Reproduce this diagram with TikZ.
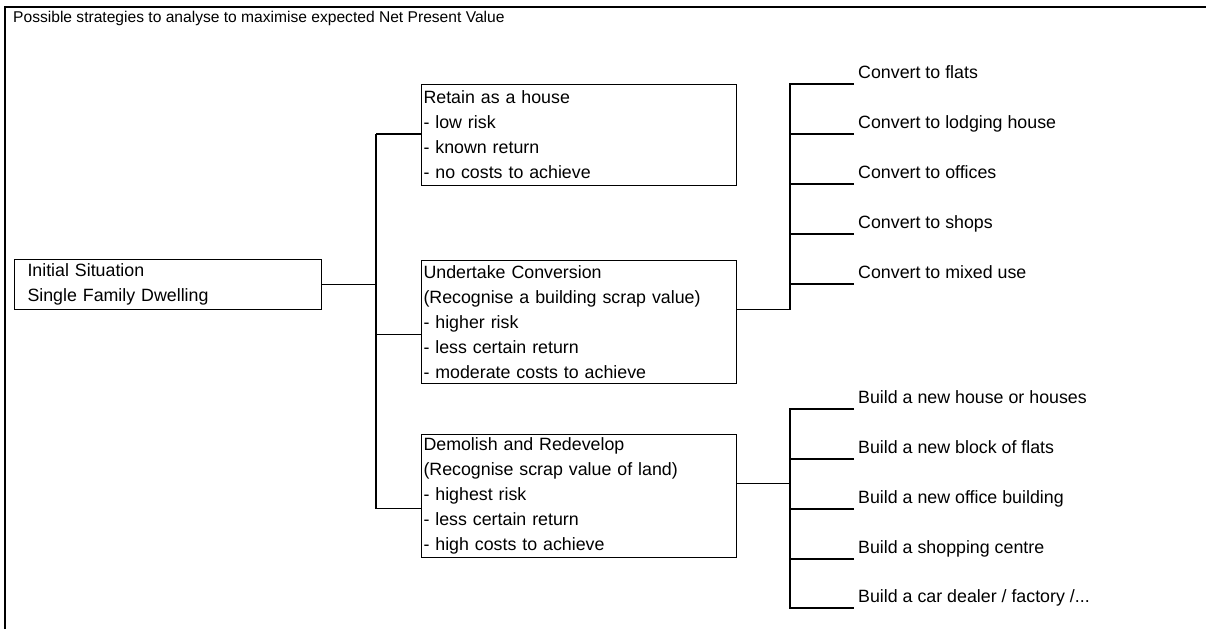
\documentclass[tikz,border=0pt]{standalone}
\usepackage{fontspec}
\setmainfont{Liberation Sans}
\usetikzlibrary{calc}

\tikzset{
  box/.style={draw, line width=1pt, rectangle, anchor=north west, align=left,
    inner xsep=2pt, inner ysep=0pt, font=\fontsize{17.8}{25}\selectfont},
  leaf/.style={anchor=south west, inner xsep=4pt, inner ysep=1pt, text depth=4pt,
    font=\fontsize{17.8}{25}\selectfont},
  link/.style={line width=1.2pt},
}

\begin{document}
\begin{tikzpicture}[x=1pt,y=-1pt]
\useasboundingbox (0,0) rectangle (1206,629);
\draw[line width=2.6pt] (5,629) -- (5,7) -- (1206,7); % frame
\node[anchor=west, inner sep=0pt, font=\fontsize{15.6}{20}\selectfont] (title) at (13,18) {Possible strategies to analyse to maximise expected Net Present Value};

\node[box, text width=281pt, inner xsep=13pt, minimum height=50pt] (init) at (14,259) {Initial Situation\\Single Family Dwelling};

\node[box, text width=311pt, minimum height=101pt] (retain) at (421,84) {Retain as a house\\- low risk\\- known return\\- no costs to achieve};
\node[box, text width=311pt, minimum height=123pt] (convert) at (421,260) {Undertake Conversion\\(Recognise a building scrap value)\\- higher risk\\- less certain return\\- moderate costs to achieve};
\node[box, text width=311pt, minimum height=123pt] (demolish) at (421,434) {Demolish and Redevelop\\(Recognise scrap value of land)\\- highest risk\\- less certain return\\- high costs to achieve};

% conversion options
\node[leaf] (flats) at (854,84) {Convert to flats};
\node[leaf] (lodging) at (854,134) {Convert to lodging house};
\node[leaf] (offices) at (854,184) {Convert to offices};
\node[leaf] (shops) at (854,234) {Convert to shops};
\node[leaf] (mixed) at (854,284) {Convert to mixed use};

% redevelopment options
\node[leaf] (houses) at (854,409) {Build a new house or houses};
\node[leaf] (block) at (854,459) {Build a new block of flats};
\node[leaf] (office) at (854,509) {Build a new office building};
\node[leaf] (centre) at (854,559) {Build a shopping centre};
\node[leaf] (factory) at (854,608) {Build a car dealer / factory /...};

% first level tree
\coordinate (jtop) at (376,134);
\coordinate (cin) at ([yshift=-12.5pt]convert.west);
\coordinate (din) at ([yshift=-12.5pt]demolish.west);
\draw[link] (jtop) -- (din -| jtop);
\draw[link] (init.east) -- (init.east -| jtop);
\draw[link] (jtop) -- (retain.west |- jtop);
\draw[link] (cin -| jtop) -- (cin);
\draw[link] (din -| jtop) -- (din);

% second level trees
\coordinate (cout) at ([yshift=12.5pt]convert.east);
\coordinate (dout) at ([yshift=12.5pt]demolish.east);
\draw[link] (flats.south west) -- ++(-64,0) |- (cout);
\draw[link] (lodging.south west) -- ++(-64,0);
\draw[link] (offices.south west) -- ++(-64,0);
\draw[link] (shops.south west) -- ++(-64,0);
\draw[link] (mixed.south west) -- ++(-64,0);

\draw[link] (houses.south west) -- ++(-64,0) |- (factory.south west);
\draw[link] (block.south west) -- ++(-64,0);
\draw[link] (office.south west) -- ++(-64,0);
\draw[link] (centre.south west) -- ++(-64,0);
\draw[link] (dout) -- ++(54,0);

\end{tikzpicture}
\end{document}
